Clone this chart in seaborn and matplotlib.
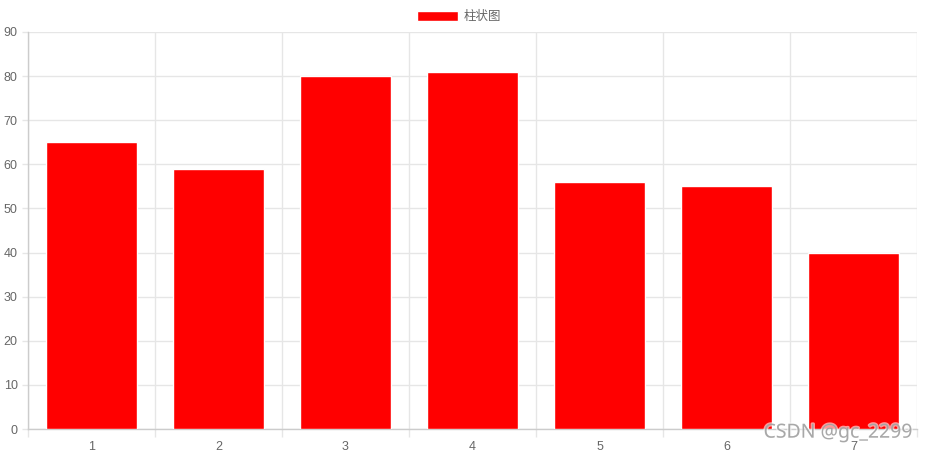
import numpy as np
import pandas as pd
import matplotlib
matplotlib.use('Agg')
import matplotlib.pyplot as plt
import matplotlib.patheffects as pe
import seaborn as sns

# data
categories = ['1', '2', '3', '4', '5', '6', '7']
values = [65, 59, 80, 81, 56, 55, 40]
series_name = '柱状图'
y_ticks = list(range(0, 91, 10))

GRID = '#e6e6e6'
TEXT = '#666666'

sns.set_theme(style='white')
plt.rcParams['font.family'] = ['Liberation Sans', 'Noto Sans CJK SC', 'DejaVu Sans']

df = pd.DataFrame({'x': categories, 'y': values})

fig = plt.figure(figsize=(9.27, 4.54), dpi=100)
ax = fig.add_axes([28 / 927, 25 / 454, 889 / 927, 397 / 454])

sns.barplot(data=df, x='x', y='y', color='#ff0000', width=0.72,
            saturation=1, label=series_name, ax=ax, zorder=3)

ax.set_xlim(-0.5, len(categories) - 0.5)
ax.set_ylim(0, 90)
ax.set_yticks(y_ticks)
ax.set_xlabel('')
ax.set_ylabel('')

# grid lines at category boundaries, like chart.js
ax.set_xticks(np.arange(-0.5, len(categories), 1.0), minor=True)
ax.grid(True, which='minor', axis='x', color=GRID, lw=1, zorder=0)
ax.grid(True, which='major', axis='y', color=GRID, lw=1, zorder=0)
ax.grid(False, which='major', axis='x')

ax.tick_params(axis='x', which='major', length=0, pad=9, labelsize=9, labelcolor=TEXT)
ax.tick_params(axis='x', which='minor', length=6, width=1, color=GRID, bottom=True)
ax.tick_params(axis='y', which='major', length=4.5, width=1, color=GRID, left=True,
               pad=3, labelsize=9, labelcolor=TEXT)

for s in ['top', 'right']:
    ax.spines[s].set_visible(False)
ax.spines['left'].set_color('#cccccc')
ax.spines['bottom'].set_color('#cccccc')
ax.spines['left'].set_linewidth(1)
ax.spines['bottom'].set_linewidth(1)

leg = ax.legend(loc='lower center', bbox_to_anchor=((459 - 28) / 889, 1.01), frameon=False,
                handlelength=3.33, handleheight=0.9, handletextpad=0.45,
                fontsize=9, labelcolor=TEXT, borderaxespad=0)

# watermark
fig.text(0.984, 0.025, 'CSDN @gc_2299', ha='right', va='bottom', fontsize=14,
         color='#999999', alpha=0.8, family=['Noto Sans', 'DejaVu Sans'],
         path_effects=[pe.withStroke(linewidth=2, foreground='white', alpha=0.6)])

fig.savefig('out.png', dpi=100)
